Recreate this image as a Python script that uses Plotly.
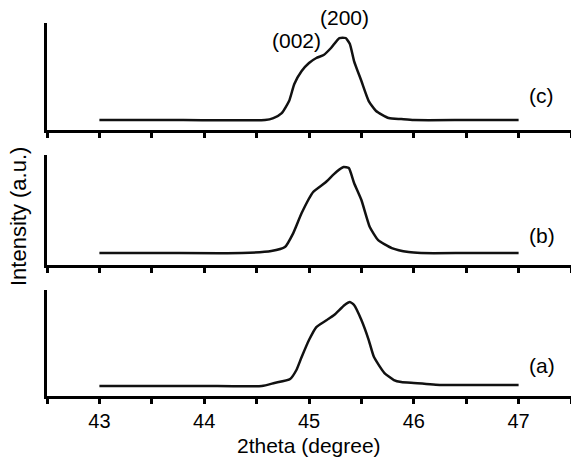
import plotly.graph_objects as go

# ---- data ----
x_a = [43.0, 43.5, 44.0, 44.55, 44.67, 44.82, 44.88, 44.93, 45.00, 45.07, 45.17, 45.24, 45.34, 45.39,
       45.43, 45.50, 45.57, 45.62, 45.72, 45.81, 45.88, 46.00, 46.26, 46.6, 47.0]
y_a = [10, 10, 10, 10, 13, 17, 26, 39, 56, 69, 76, 81, 91, 94,
       91, 76, 56, 39, 23, 16, 14, 13, 11, 11, 11]

x_b = [43.0, 43.6, 44.36, 44.64, 44.77, 44.85, 44.93, 45.04, 45.15, 45.26, 45.33, 45.38,
       45.43, 45.50, 45.58, 45.66, 45.79, 45.95, 46.07, 46.5, 47.0]
y_b = [12, 12, 12, 14, 18, 32, 52, 73, 82, 93, 98, 97,
       82, 65, 38, 25, 17, 13, 12, 12, 12]

x_c = [43.0, 43.8, 44.58, 44.66, 44.74, 44.81, 44.86, 44.93, 45.00, 45.07, 45.14, 45.21, 45.29, 45.35,
       45.39, 45.43, 45.50, 45.57, 45.64, 45.76, 45.88, 46.0, 46.5, 47.0]
y_c = [10, 10, 10, 12, 17, 29, 46, 59, 67, 72, 75, 82, 92, 92,
       86, 69, 49, 29, 19, 12, 11, 10, 10, 10]

panel_labels = ["(a)", "(b)", "(c)"]
panel_label_y = [31, 30, 35]
peak_labels = ["(002)", "(200)"]
peak_label_x = [44.88, 45.34]
tick_vals = [42.5, 43, 43.5, 44, 44.5, 45, 45.5, 46, 46.5, 47, 47.5]
tick_text = ["", "43", "", "44", "", "45", "", "46", "", "47", ""]

FONT = "Liberation Sans, Arial, sans-serif"

W, H = 571, 463
ML, MR, MT, MB = 47, 0, 23, 67
PH = H - MT - MB  # plot height

fig = go.Figure()
for xs, ys, xa, ya in [(x_a, y_a, "x", "y"), (x_b, y_b, "x2", "y2"), (x_c, y_c, "x3", "y3")]:
    fig.add_trace(go.Scatter(x=xs, y=ys, xaxis=xa, yaxis=ya, mode="lines",
                             line=dict(color="#111111", width=2.5, shape="spline", smoothing=0.5),
                             showlegend=False, hoverinfo="skip"))

xcommon = dict(range=[42.5, 47.5], showline=True, linecolor="black", linewidth=3,
               ticks="outside", ticklen=5, tickwidth=2.5, tickcolor="black",
               tickvals=tick_vals, showgrid=False, zeroline=False, mirror=False)
ycommon = dict(showline=True, linecolor="black", linewidth=3, ticks="", showticklabels=False,
               showgrid=False, zeroline=False)

fig.update_layout(
    width=W, height=H,
    margin=dict(l=ML, r=MR, t=MT, b=MB),
    plot_bgcolor="white", paper_bgcolor="white",
    font=dict(family=FONT, color="black", size=20),
    xaxis=dict(**xcommon, anchor="y", ticktext=tick_text, tickfont=dict(size=20)),
    xaxis2=dict(**xcommon, anchor="y2", matches="x", showticklabels=False),
    xaxis3=dict(**xcommon, anchor="y3", matches="x", showticklabels=False),
    yaxis=dict(**ycommon, domain=[0.0, 0.284], range=[0, 106], anchor="x"),
    yaxis2=dict(**ycommon, domain=[0.351, 0.646], range=[0, 110], anchor="x2"),
    yaxis3=dict(**ycommon, domain=[0.713, 1.0], range=[0, 107], anchor="x3"),
)

def py(page_y):
    """page pixel y -> paper fraction"""
    return 1 - (page_y - MT) / PH

# panel labels
for lab, ax, yv in zip(panel_labels, ["1", "2", "3"], panel_label_y):
    xr = "x" if ax == "1" else "x" + ax
    yr = "y" if ax == "1" else "y" + ax
    fig.add_annotation(text=lab, x=47.22, y=yv, xref=xr, yref=yr,
                       xanchor="center", yanchor="middle",
                       showarrow=False, font=dict(size=21, family=FONT))

# peak labels above panel (c)
for lab, xv, yp in zip(peak_labels, peak_label_x, [40, 18]):
    fig.add_annotation(text=lab, x=xv, y=py(yp), xref="x3", yref="paper",
                       xanchor="center", yanchor="middle",
                       showarrow=False, font=dict(size=21, family=FONT))

# axis titles
fig.add_annotation(text="2theta (degree)", x=45.0, y=py(445), xref="x", yref="paper",
                   xanchor="center", yanchor="middle",
                   showarrow=False, font=dict(size=21, family=FONT))
fig.add_annotation(text="Intensity (a.u.)", x=(18 - ML) / (W - ML - MR), y=py(217),
                   xref="paper", yref="paper", textangle=-90, showarrow=False,
                   xanchor="center", yanchor="middle",
                   font=dict(size=22, family=FONT))

fig.write_html("out.html", config={"displayModeBar": False},
               post_script="document.body.style.margin='0';document.body.style.padding='0';")
